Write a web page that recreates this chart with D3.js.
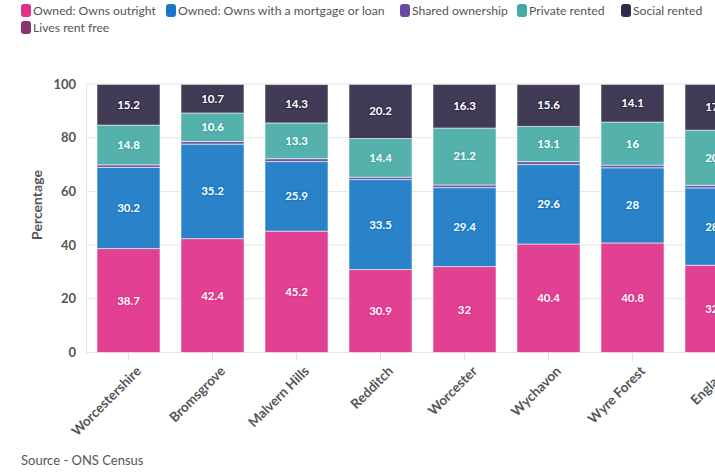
<!DOCTYPE html>
<html><head><meta charset="utf-8">
<script src="https://cdn.jsdelivr.net/npm/d3@7"></script>
<style>
body{margin:0;background:#fff;overflow:hidden;}
svg{display:block;font-family:"Source Sans Pro",Lato,"Noto Sans",sans-serif;}
</style></head><body>
<svg id="c" width="715" height="472"></svg>
<script>
const categories = ["Worcestershire","Bromsgrove","Malvern Hills","Redditch","Worcester","Wychavon","Wyre Forest","England"];
const seriesNames = ["Owned: Owns outright","Owned: Owns with a mortgage or loan","Shared ownership","Private rented","Social rented","Lives rent free"];
const seriesColors = ["#e0308a","#1877c4","#6a4a9e","#45aaa5","#312a48","#8a3570"];
const ownsOutright = [38.7,42.4,45.2,30.9,32,40.4,40.8,32.5];
const ownsMortgage = [30.2,35.2,25.9,33.5,29.4,29.6,28,28.8];
const sharedOwnership = [1.0,1.0,1.1,0.9,1.0,1.1,1.0,1.0];
const privateRented = [14.8,10.6,13.3,14.4,21.2,13.1,16,20.5];
const socialRented = [15.2,10.7,14.3,20.2,16.3,15.6,14.1,17.1];
const livesRentFree = [0.1,0.1,0.2,0.1,0.1,0.2,0.1,0.1];
const yTicks = [0,20,40,60,80,100];
const labelledSeries = [0,1,3,4];

const seriesValues = [ownsOutright,ownsMortgage,sharedOwnership,privateRented,socialRented,livesRentFree];
const rows = categories.map((c,i)=>{const r={cat:c}; seriesNames.forEach((s,k)=>r[s]=seriesValues[k][i]); return r;});
const stack = d3.stack().keys(seriesNames)(rows);

const svg = d3.select("#c");
const x = d3.scaleBand().domain(categories).range([86.5,758.5]).paddingInner(0.25).paddingOuter(0.125);
const y = d3.scaleLinear().domain([0,100]).range([352.5,84]);

// gridlines
svg.append("g").selectAll("line").data(yTicks).join("line")
  .attr("x1",86).attr("x2",715).attr("y1",d=>y(d)).attr("y2",d=>y(d))
  .attr("stroke","#e6e6e6").attr("stroke-width",1);
svg.append("line").attr("x1",86.5).attr("x2",86.5).attr("y1",y(100)).attr("y2",y(0)).attr("stroke","#e6e6e6");

// y axis
const yAxis = svg.append("g").attr("transform","translate(86,0)")
  .call(d3.axisLeft(y).tickValues(yTicks).tickSize(0).tickPadding(10));
yAxis.select(".domain").remove();
yAxis.selectAll("text").attr("font-size",13).attr("font-weight","bold").attr("fill","#555").attr("font-family","Lato,sans-serif");

svg.append("text").attr("transform","translate(42,205) rotate(-90)")
  .attr("text-anchor","middle").attr("font-size",14).attr("font-weight","bold").attr("fill","#555")
  .attr("font-family","Lato,sans-serif").text("Percentage");

// bars
const gs = svg.append("g").selectAll("g").data(stack).join("g")
  .attr("fill",(d,i)=>seriesColors[i]);
gs.selectAll("rect").data(d=>d).join("rect")
  .attr("x",d=>x(d.data.cat)).attr("width",x.bandwidth())
  .attr("y",d=>y(d[1])).attr("height",d=>y(d[0])-y(d[1]))
  .attr("fill-opacity",0.92).attr("stroke","#fff").attr("stroke-opacity",0.55).attr("stroke-width",1);

// labels
const lab = svg.append("g").attr("font-family","Lato,sans-serif").attr("font-size",11.5).attr("font-weight","bold");
stack.forEach((s,k)=>{
  if(!labelledSeries.includes(k)) return;
  s.forEach(d=>{
    const cx = x(d.data.cat)+x.bandwidth()/2, cy=(y(d[0])+y(d[1]))/2+4;
    const t = String(seriesValues[k][categories.indexOf(d.data.cat)]);
    lab.append("text").attr("x",cx).attr("y",cy).attr("text-anchor","middle")
      .attr("fill","none").attr("stroke",seriesColors[k]).attr("stroke-width",3).attr("stroke-opacity",0.7)
      .attr("stroke-linejoin","round").text(t);
    lab.append("text").attr("x",cx).attr("y",cy).attr("text-anchor","middle").attr("fill","#fff").text(t);
  });
});

// x axis
const xAxis = svg.append("g").attr("transform","translate(0,352.5)")
  .call(d3.axisBottom(x).tickSize(8).tickPadding(4));
xAxis.select(".domain").remove();
xAxis.selectAll("line").attr("stroke","#e0e0e0");
xAxis.selectAll("text").attr("font-size",13.5).attr("font-weight","bold").attr("fill","#555")
  .attr("font-family","Lato,sans-serif")
  .attr("text-anchor","end").attr("dy",null)
  .attr("transform","translate(5,11) rotate(-45)");

// legend
const legend = svg.append("g").attr("font-family","Lato,sans-serif").attr("font-size",12.2).attr("fill","#555");
const legendPos = [[21,10],[166,10],[400,10],[517,10],[621,10],[21,27]];
seriesNames.forEach((n,i)=>{
  const [lx,ly]=legendPos[i];
  legend.append("rect").attr("x",lx).attr("y",ly-6).attr("width",10).attr("height",13).attr("rx",3)
    .attr("fill",seriesColors[i]);
  legend.append("text").attr("x",lx+12).attr("y",ly+5).text(n);
});

svg.append("text").attr("x",21).attr("y",465).attr("font-size",13).attr("fill","#555")
  .attr("font-family","Lato,sans-serif").text("Source - ONS Census");
</script>
</body></html>
